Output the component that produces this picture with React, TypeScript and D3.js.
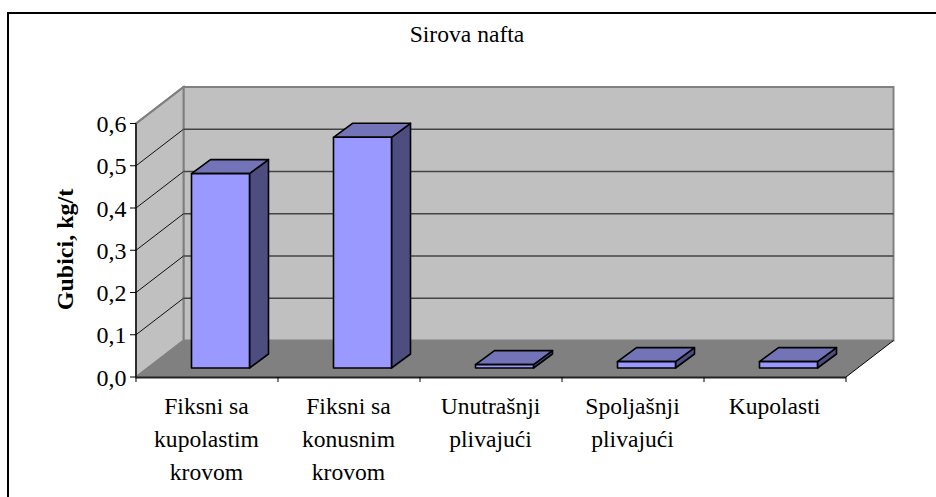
import React from "react";
import * as d3 from "d3";

const title = "Sirova nafta";
const yAxisTitle = "Gubici, kg/t";
const categories = ["Fiksni sa|kupolastim|krovom", "Fiksni sa|konusnim|krovom", "Unutrašnji|plivajući", "Spoljašnji|plivajući", "Kupolasti"];
const values = [0.46, 0.546, 0.008, 0.015, 0.015];
const yTicks = [0, 0.1, 0.2, 0.3, 0.4, 0.5, 0.6];

const FONT = "'Liberation Serif','Times New Roman',serif";
const W = 936, H = 497;
const x0 = 136, x1 = 846, y0 = 377, y6 = 123.5;
const dx = 47.5, dy = -36.5;
const barW = 58, bdx = 19, bdy = -14, baseDy = -9;
const fs = 23.6;

const xBand = d3.scaleBand<number>().domain(d3.range(categories.length)).range([x0, x1]);
const yFront = d3.scaleLinear().domain([0, 0.6]).range([y0, y6]);
const yBar = d3.scaleLinear().domain([0, 0.6]).range([y0 + baseDy, y6 + baseDy]);
const poly = (pts: [number, number][]) => (d3.line()(pts) ?? "") + "Z";

export default function App() {
  return (
    <svg width={W} height={H} style={{ position: "absolute", left: 0, top: 0 }} fontFamily={FONT}>
      <path d={`M8,${H}V13H${W}`} fill="none" stroke="#000" strokeWidth={2} />
      <text x={467} y={41.5} textAnchor="middle" fontSize={fs} fill="#000">{title}</text>

      {/* walls and floor */}
      <path d={poly([[x0 + dx, y6 + dy], [x1 + dx, y6 + dy], [x1 + dx, y0 + dy], [x0 + dx, y0 + dy]])} fill="#c0c0c0" stroke="#808080" strokeWidth={2} />
      <path d={poly([[x0, y6], [x0 + dx, y6 + dy], [x0 + dx, y0 + dy], [x0, y0]])} fill="#c0c0c0" stroke="#808080" strokeWidth={2} />
      <path d={poly([[x0, y0], [x0 + dx, y0 + dy], [x1 + dx, y0 + dy], [x1, y0]])} fill="#808080" />
      <line x1={x1} y1={y0} x2={x1 + dx} y2={y0 + dy} stroke="#000" strokeWidth={1} />

      {/* gridlines */}
      {yTicks.slice(1, -1).map(t => (
        <g key={t} fill="none">
          <path d={d3.line()([[x0, yFront(t)], [x0 + dx, yFront(t) + dy]]) ?? ""} stroke="#111" strokeWidth={1} />
          <path d={d3.line()([[x0 + dx, yFront(t) + dy], [x1 + dx, yFront(t) + dy]]) ?? ""} stroke="#444" strokeWidth={1.3} />
        </g>
      ))}
      <path d={d3.line()([[x0, y6], [x0 + dx, y6 + dy]]) ?? ""} stroke="#808080" strokeWidth={2} fill="none" />

      {/* axes */}
      <line x1={x0} y1={y6} x2={x0} y2={y0} stroke="#000" strokeWidth={1.3} />
      <line x1={x0} y1={y0 + 0.5} x2={x1} y2={y0 + 0.5} stroke="#222" strokeWidth={2} />
      {yTicks.map(t => (
        <g key={t}>
          <line x1={x0 - 6} x2={x0} y1={yFront(t)} y2={yFront(t)} stroke="#000" />
          <text x={x0 - 9.5} y={yFront(t) + 8.5} textAnchor="end" fontSize={24} fill="#000">{t.toFixed(1).replace(".", ",")}</text>
        </g>
      ))}
      {d3.range(categories.length + 1).map(i => {
        const x = x0 + i * xBand.step();
        return <line key={i} x1={x} x2={x} y1={y0} y2={y0 + 5} stroke="#000" />;
      })}

      {/* bars */}
      {values.map((v, i) => {
        const l = xBand(i)! + xBand.bandwidth() / 2 - barW / 2 + 13.5;
        const r = l + barW;
        const b = yBar(0), t = yBar(v);
        return (
          <g key={i} stroke="#000" strokeWidth={1.6} strokeLinejoin="round">
            <path d={poly([[r, t], [r + bdx, t + bdy], [r + bdx, b + bdy], [r, b]])} fill="#4d4d80" />
            <path d={poly([[l, t], [l + bdx, t + bdy], [r + bdx, t + bdy], [r, t]])} fill="#7373b8" />
            <rect x={l} y={t} width={barW} height={b - t} fill="#9999ff" />
          </g>
        );
      })}

      {/* category labels */}
      {categories.map((c, i) => (
        <text key={i} textAnchor="middle" fontSize={fs} fill="#000">
          {c.split("|").map((line, j) => (
            <tspan key={j} x={xBand(i)! + xBand.bandwidth() / 2 - 0.5} y={414 + j * 33}>{line}</tspan>
          ))}
        </text>
      ))}

      <text transform="translate(73,249.5) rotate(-90)" textAnchor="middle" fontSize={24} fontWeight="bold" fill="#000">{yAxisTitle}</text>
    </svg>
  );
}
